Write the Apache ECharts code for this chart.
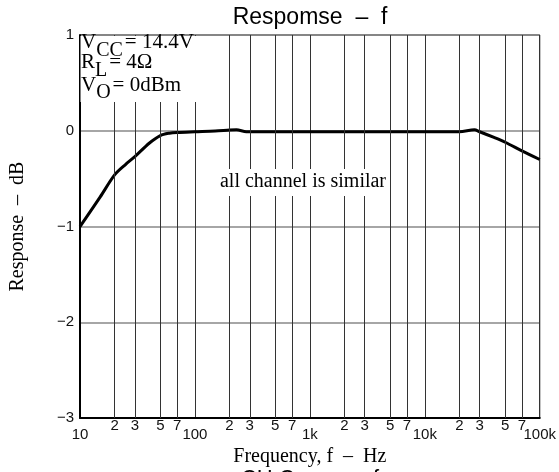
<!DOCTYPE html>
<html>
<head>
<meta charset="utf-8">
<script src="https://cdn.jsdelivr.net/npm/echarts@6/dist/echarts.min.js"></script>
<style>html,body{margin:0;padding:0;background:#fff;}#c{width:559px;height:472px;}</style>
</head>
<body>
<div id="c"></div>
<script>
// ---- data ----
const freqs    = [10, 15, 20, 25, 30, 40, 50, 60, 70, 100, 150, 200, 230, 280, 500, 1000, 2000, 5000, 10000, 20000, 27000, 30000, 40000, 50000, 70000, 100000];
const response = [-1.0, -0.69, -0.46, -0.35, -0.27, -0.13, -0.05, -0.025, -0.017, -0.01, -0.003, 0.007, 0.01, -0.01, -0.01, -0.01, -0.01, -0.01, -0.01, -0.01, 0.01, -0.01, -0.07, -0.12, -0.21, -0.30];
const decadeTicks  = [10, 100, 1000, 10000, 100000];
const decadeLabels = ['10', '100', '1k', '10k', '100k'];
const minorFreqs   = [20, 30, 50, 70, 200, 300, 500, 700, 2000, 3000, 5000, 7000, 20000, 30000, 50000, 70000];
const minorLabels  = ['2', '3', '5', '7', '2', '3', '5', '7', '2', '3', '5', '7', '2', '3', '5', '7'];
const yTicks  = [1, 0, -1, -2, -3];
const yLabels = ['1', '0', '−1', '−2', '−3'];

const chart = echarts.init(document.getElementById('c'), null, {renderer: 'canvas'});
const SANS = 'Liberation Sans';
const SERIF = 'Liberation Serif';

const condRich = {
  m: {fontSize: 21, fontFamily: SERIF, color: '#000', lineHeight: 21, verticalAlign: 'top'},
  s: {fontSize: 20, fontFamily: SERIF, color: '#000', lineHeight: 20, verticalAlign: 'top', padding: [8, 2, 0, 0]}
};

chart.setOption({
  animation: false,
  grid: {left: 79, right: 18, top: 35, bottom: 53.5, show: true, borderColor: '#000', borderWidth: 1, backgroundColor: 'transparent'},
  xAxis: {
    type: 'log', logBase: 10, min: 10, max: 100000,
    name: 'Frequency, f  –  Hz', nameLocation: 'middle', nameGap: 27,
    nameTextStyle: {fontFamily: SERIF, fontSize: 20, color: '#000'},
    axisLine: {show: true, onZero: false, lineStyle: {color: '#000', width: 2}},
    axisTick: {show: false},
    axisLabel: {
      margin: 9, fontFamily: SANS, fontSize: 15, color: '#111',
      formatter: v => { const i = decadeTicks.findIndex(t => Math.abs(t - v) / t < 1e-6); return i >= 0 ? decadeLabels[i] : ''; }
    },
    splitLine: {show: true, lineStyle: {color: '#333', width: 1}}
  },
  yAxis: {
    type: 'value', min: -3, max: 1, interval: 1,
    name: 'Response  –  dB', nameLocation: 'middle', nameGap: 52, nameRotate: 90,
    nameTextStyle: {fontFamily: SERIF, fontSize: 20, color: '#000'},
    axisLine: {show: true, onZero: false, lineStyle: {color: '#000', width: 2}},
    axisTick: {show: false},
    axisLabel: {
      margin: 6, fontFamily: SANS, fontSize: 15, color: '#111',
      formatter: v => { const i = yTicks.indexOf(Math.round(v)); return i >= 0 ? yLabels[i] : ''; }
    },
    splitLine: {show: true, lineStyle: {color: '#888', width: 1.5}}
  },
  series: [{
    type: 'line',
    data: freqs.map((f, i) => [f, response[i]]),
    showSymbol: false, symbol: 'none', smooth: 0.3,
    lineStyle: {color: '#000', width: 3},
    emphasis: {disabled: true},
    markLine: {
      silent: true, symbol: ['none', 'none'], animation: false,
      lineStyle: {color: '#333', width: 1, type: 'solid'},
      label: {show: true, position: 'start', distance: 0, fontFamily: SANS, fontSize: 15, color: '#111'},
      emphasis: {disabled: true},
      data: minorFreqs.map((f, i) => ({xAxis: f, label: {formatter: minorLabels[i]}}))
    }
  }],
  graphic: [
    {type: 'text', z: 110, x: 310, y: 18, style: {text: 'Respomse  –  f', fontFamily: SANS, fontSize: 23, fill: '#000', align: 'center', verticalAlign: 'middle'}},
    {type: 'rect', z: 100, shape: {x: 80.5, y: 36, width: 134, height: 66}, style: {fill: '#fff'}},
    {type: 'text', z: 110, x: 81, y: 32.4, style: {text: '{m|V}{s|CC}{m|= 14.4V}', rich: condRich}},
    {type: 'text', z: 110, x: 81, y: 52.4, style: {text: '{m|R}{s|L}{m|= 4Ω}', rich: condRich}},
    {type: 'text', z: 110, x: 81, y: 74.7, style: {text: '{m|V}{s|O}{m|= 0dBm}', rich: condRich}},
    {type: 'rect', z: 100, shape: {x: 213, y: 169, width: 177, height: 27}, style: {fill: '#fff'}},
    {type: 'text', z: 110, x: 303, y: 182, style: {text: 'all channel is similar', fontFamily: SERIF, fontSize: 20, fill: '#000', align: 'center', verticalAlign: 'middle'}},
    {type: 'text', z: 110, x: 310, y: 468, style: {text: 'CH Curves – f', fontFamily: SANS, fontSize: 22, fill: '#000', align: 'center', verticalAlign: 'top'}}
  ]
});
</script>
</body>
</html>
